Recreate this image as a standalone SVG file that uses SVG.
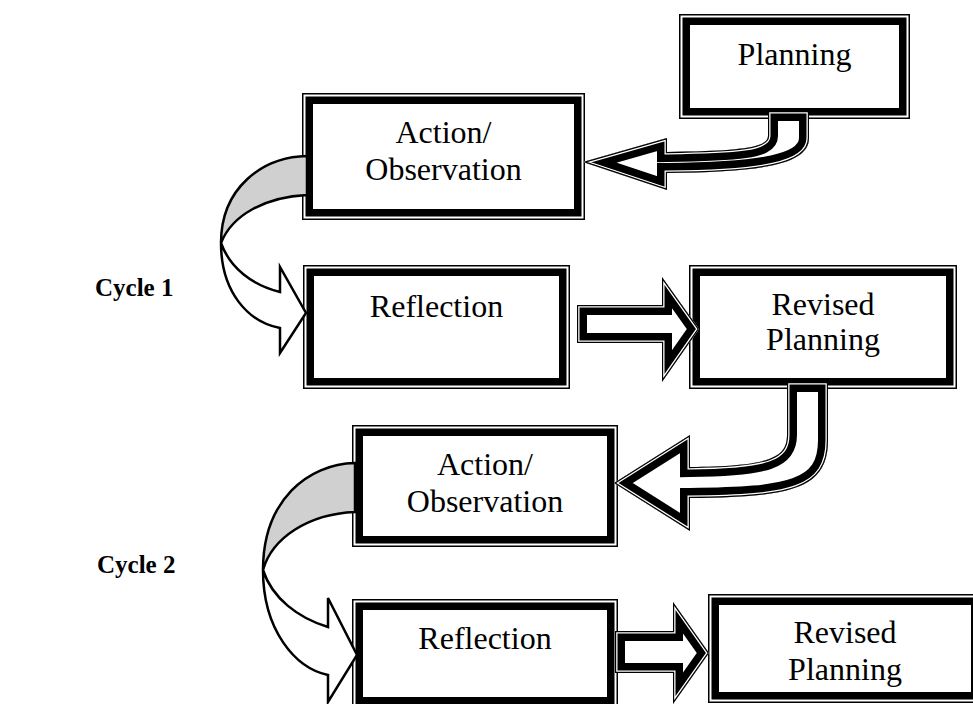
<svg xmlns="http://www.w3.org/2000/svg" xmlns:xlink="http://www.w3.org/1999/xlink" width="973" height="704" viewBox="0 0 973 704">
  <style>
    .frame { fill: #fff; stroke: #000; stroke-width: 1.5; }
    .frame-in { fill: none; stroke: #000; stroke-width: 7.5; }
    .lbl { font-family: "Liberation Serif", "Times New Roman", serif; font-size: 32px; fill: #000; text-anchor: middle; }
    .cyc { font-family: "Liberation Serif", "Times New Roman", serif; font-size: 25px; font-weight: bold; fill: #000; }
    .ribbon { stroke: #000; stroke-width: 2.5; stroke-linejoin: miter; }
    .ribbon-back { fill: #d0d0d0; }
    .ribbon-front { fill: #fff; }
    .blk-fill { fill: #fff; stroke: none; }
    .blk-thick { fill: none; stroke: #000; stroke-width: 20; stroke-linejoin: miter; }
    .blk-gap { fill: none; stroke: #fff; stroke-width: 5; stroke-linejoin: miter; }
    .blk-thin { fill: none; stroke: #000; stroke-width: 2.4; stroke-linejoin: miter; }
  </style>
  <defs>
    <!-- block arrow outlines -->
    <path id="arrA" d="M768,111 L809,111 L809,138 C809,165 760,172 667,173 L667,190 L583,162 L667,138 L667,152 C740,151 768,148 768,136 Z"/>
    <path id="arrB" d="M787,382 L828,382 L828,440 C828,490 790,497 690,498 L690,531 L614,483 L690,435 L690,467 C770,466 787,458 787,435 Z"/>
    <path id="arrC" d="M577,305 L662,305 L662,277 L699,329 L662,382 L662,343 L577,343 Z"/>
    <path id="arrD" d="M615,631 L673,631 L673,602 L709,653 L673,704 L673,673 L615,673 Z"/>
    <clipPath id="clipA"><use xlink:href="#arrA"/></clipPath>
    <clipPath id="clipB"><use xlink:href="#arrB"/></clipPath>
    <clipPath id="clipC"><use xlink:href="#arrC"/></clipPath>
    <clipPath id="clipD"><use xlink:href="#arrD"/></clipPath>
  </defs>

  <rect width="973" height="704" fill="#fff"/>

  <!-- process boxes: thin outer frame, white gap, heavy inner frame -->
  <g id="planning">
    <rect class="frame" x="679.75" y="14.75" width="229.5" height="103.5"/>
    <rect class="frame-in" x="686.25" y="21.25" width="216.5" height="90.5"/>
    <text class="lbl" x="794.5" y="65">Planning</text>
  </g>
  <g id="action1">
    <rect class="frame" x="302.75" y="93.75" width="281.5" height="125.5"/>
    <rect class="frame-in" x="309.25" y="100.25" width="268.5" height="112.5"/>
    <text class="lbl" x="443.5" y="143">Action/</text>
    <text class="lbl" x="443.5" y="180">Observation</text>
  </g>
  <g id="reflection1">
    <rect class="frame" x="303.75" y="265.75" width="265.5" height="122.5"/>
    <rect class="frame-in" x="310.25" y="272.25" width="252.5" height="109.5"/>
    <text class="lbl" x="436.5" y="317">Reflection</text>
  </g>
  <g id="revised1">
    <rect class="frame" x="689.75" y="265.75" width="266.5" height="122.5"/>
    <rect class="frame-in" x="696.25" y="272.25" width="253.5" height="109.5"/>
    <text class="lbl" x="823" y="315">Revised</text>
    <text class="lbl" x="823" y="350">Planning</text>
  </g>
  <g id="action2">
    <rect class="frame" x="352.75" y="425.75" width="264.5" height="120.5"/>
    <rect class="frame-in" x="359.25" y="432.25" width="251.5" height="107.5"/>
    <text class="lbl" x="485" y="475">Action/</text>
    <text class="lbl" x="485" y="512">Observation</text>
  </g>
  <g id="reflection2">
    <rect class="frame" x="352.75" y="599.75" width="264.5" height="107.5"/>
    <rect class="frame-in" x="359.25" y="606.25" width="251.5" height="94.5"/>
    <text class="lbl" x="485" y="649">Reflection</text>
  </g>
  <g id="revised2">
    <rect class="frame" x="708.75" y="594.75" width="272.5" height="107.5"/>
    <rect class="frame-in" x="715.25" y="601.25" width="259.5" height="94.5"/>
    <text class="lbl" x="845" y="643">Revised</text>
    <text class="lbl" x="845" y="680">Planning</text>
  </g>

  <g id="cycle1"><text class="cyc" x="95" y="296">Cycle 1</text></g>
  <g id="cycle2"><text class="cyc" x="97" y="573">Cycle 2</text></g>

  <g id="connectors">
    <!-- curved ribbon arrows: Action/Observation to Reflection -->
    <path class="ribbon ribbon-back" d="M307,156 C262,157 221,188 221,243 C232,215 265,197 307,195 Z"/>
    <path class="ribbon ribbon-front" d="M221,243 C221,292 248,322 280,328 L280,353 L306,313 L280,267 L280,292 C252,285 230,268 221,243 Z"/>
    <path class="ribbon ribbon-back" d="M355,463 C308,464 263,500 263,570 C272,538 308,514 355,512 Z"/>
    <path class="ribbon ribbon-front" d="M263,570 C263,630 295,668 328,675 L328,702 L357,655 L328,598 L328,627 C298,618 272,598 263,570 Z"/>

    <!-- block arrows with thin-thick outline -->
    <use xlink:href="#arrA" class="blk-fill"/>
    <use xlink:href="#arrA" class="blk-thick" clip-path="url(#clipA)"/>
    <use xlink:href="#arrA" class="blk-gap" clip-path="url(#clipA)"/>
    <use xlink:href="#arrA" class="blk-thin" clip-path="url(#clipA)"/>

    <use xlink:href="#arrB" class="blk-fill"/>
    <use xlink:href="#arrB" class="blk-thick" clip-path="url(#clipB)"/>
    <use xlink:href="#arrB" class="blk-gap" clip-path="url(#clipB)"/>
    <use xlink:href="#arrB" class="blk-thin" clip-path="url(#clipB)"/>

    <use xlink:href="#arrC" class="blk-fill"/>
    <use xlink:href="#arrC" class="blk-thick" clip-path="url(#clipC)"/>
    <use xlink:href="#arrC" class="blk-gap" clip-path="url(#clipC)"/>
    <use xlink:href="#arrC" class="blk-thin" clip-path="url(#clipC)"/>

    <use xlink:href="#arrD" class="blk-fill"/>
    <use xlink:href="#arrD" class="blk-thick" clip-path="url(#clipD)"/>
    <use xlink:href="#arrD" class="blk-gap" clip-path="url(#clipD)"/>
    <use xlink:href="#arrD" class="blk-thin" clip-path="url(#clipD)"/>
  </g>
</svg>
